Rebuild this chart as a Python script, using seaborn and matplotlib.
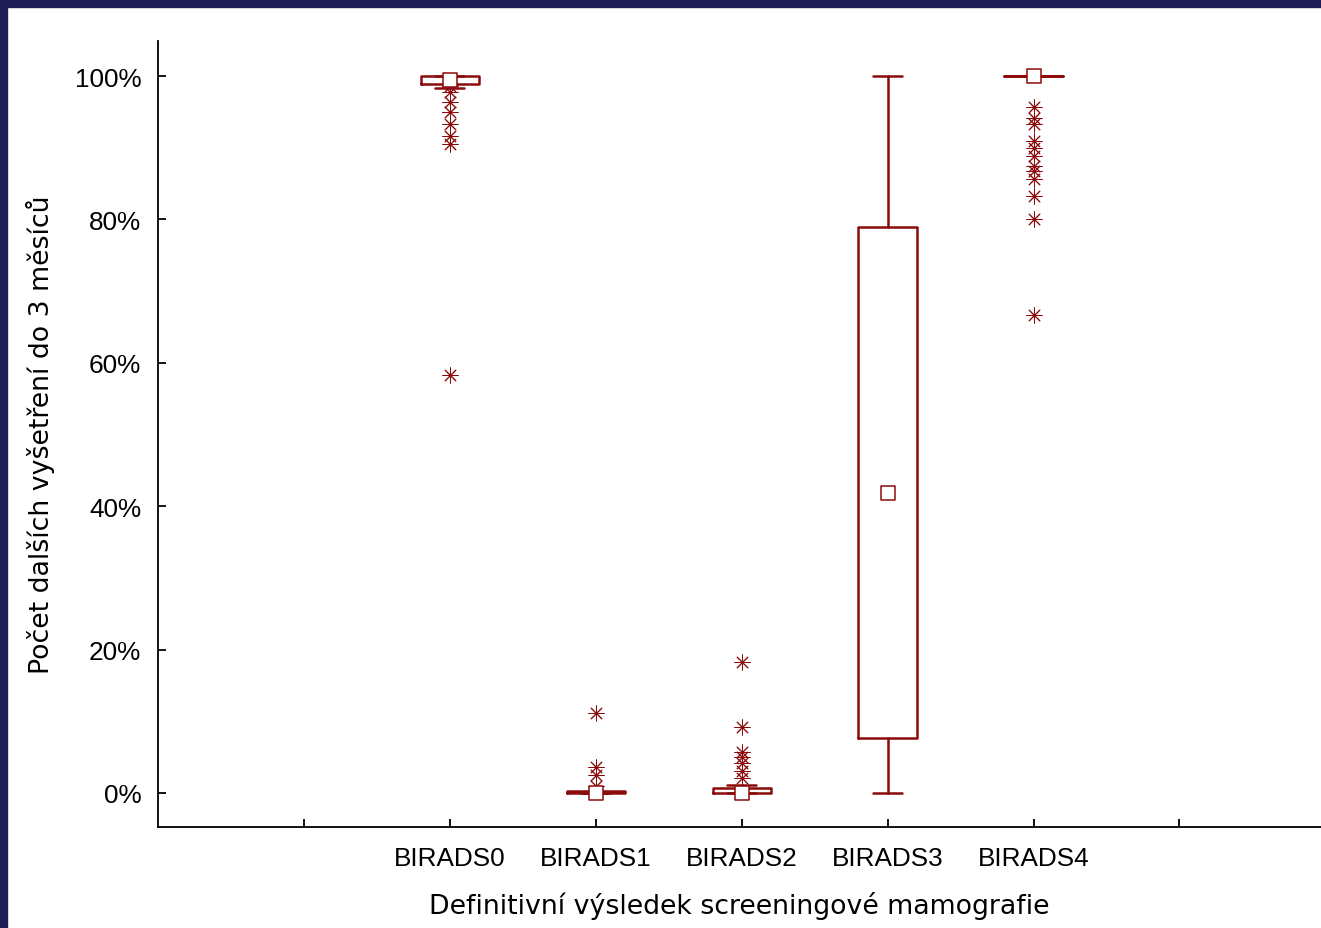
import numpy as np
import pandas as pd
import seaborn as sns
import matplotlib.pyplot as plt
from matplotlib.patches import Rectangle

# data (percent)
categories = ['BIRADS0', 'BIRADS1', 'BIRADS2', 'BIRADS3', 'BIRADS4']
medians = [99.5, 0.0, 0.0, 41.8, 100.0]
q1 = [98.9, 0.0, 0.0, 7.6, 100.0]
q3 = [100.0, 0.3, 0.7, 78.9, 100.0]
whis_lo = [98.3, 0.0, 0.0, 0.0, 100.0]
whis_hi = [100.0, 0.0, 1.1, 100.0, 100.0]
outliers = {
    'BIRADS0': [98.6, 97.8, 96.4, 95.0, 93.3, 91.7, 90.6, 58.3],
    'BIRADS1': [11.1, 3.6, 2.5, 1.0],
    'BIRADS2': [18.3, 9.2, 5.7, 5.0, 4.2, 3.1, 2.1],
    'BIRADS3': [],
    'BIRADS4': [95.7, 94.1, 93.3, 90.9, 90.0, 88.9, 87.5, 86.7, 85.7, 83.3, 80.0, 66.7],
}

RED = '#8b0a0a'
NAVY = '#201c54'

sns.set_style('ticks')
plt.rcParams['font.family'] = ['DejaVu Sans']

fig = plt.figure(figsize=(13.21, 9.29), dpi=100)
fig.patch.set_facecolor('white')
ax = fig.add_axes([158 / 1321, 101 / 929, 1 - 158 / 1321, 786 / 929])

stats = []
for i, c in enumerate(categories):
    stats.append(dict(label=c, med=medians[i], q1=q1[i], q3=q3[i],
                      whislo=whis_lo[i], whishi=whis_hi[i], fliers=[]))

pos = list(range(len(categories)))
ax.bxp(stats, positions=pos, widths=0.4, showfliers=False,
       boxprops=dict(color=RED, linewidth=1.8),
       whiskerprops=dict(color=RED, linewidth=1.8),
       capprops=dict(color=RED, linewidth=1.8),
       medianprops=dict(linewidth=0))

df_out = pd.DataFrame([(c, v) for c in categories for v in outliers[c]],
                      columns=['kategorie', 'hodnota'])
ax.scatter([categories.index(c) for c in df_out['kategorie']], df_out['hodnota'],
           marker=(8, 2, 0), s=120, color=RED, linewidths=0.7, zorder=3)

df_med = pd.DataFrame({'kategorie': pos, 'median': medians})
sns.scatterplot(data=df_med, x='kategorie', y='median', marker='s', s=110,
                facecolor='white', edgecolor=RED, linewidth=1.1, zorder=4, ax=ax,
                legend=False)

ax.set_xlim(-2, 5.97)
ax.set_ylim(-4.75, 104.9)
ax.set_xticks(range(-1, 6))
ax.set_xticklabels([''] + categories + [''])
ax.set_yticks([0, 20, 40, 60, 80, 100])
ax.set_yticklabels(['0%', '20%', '40%', '60%', '80%', '100%'])
for lab in ax.get_xticklabels() + ax.get_yticklabels():
    lab.set_fontfamily('Liberation Sans')
    lab.set_fontsize(18.8)
    lab.set_color('black')
ax.tick_params(axis='both', direction='in', length=6, width=1.3, colors='black')
ax.tick_params(axis='x', pad=14)
ax.tick_params(axis='y', pad=12)
for s in ['left', 'bottom']:
    ax.spines[s].set_linewidth(1.3)
    ax.spines[s].set_color('black')
ax.spines['top'].set_visible(False)
ax.spines['right'].set_visible(False)

ax.set_xlabel('Definitivní výsledek screeningové mamografie', fontsize=19.3,
              labelpad=15, color='black')
ax.set_ylabel('Počet dalších vyšetření do 3 měsíců', fontsize=19.3,
              labelpad=14, color='black')

# navy frame on the top and left edge
fig.patches.append(Rectangle((0, 0), 7 / 1321, 1, transform=fig.transFigure,
                             color=NAVY, zorder=10))
fig.patches.append(Rectangle((0, 1 - 8 / 929), 1, 8 / 929, transform=fig.transFigure,
                             color=NAVY, zorder=10))

fig.savefig('out.png', dpi=100, facecolor='white')
